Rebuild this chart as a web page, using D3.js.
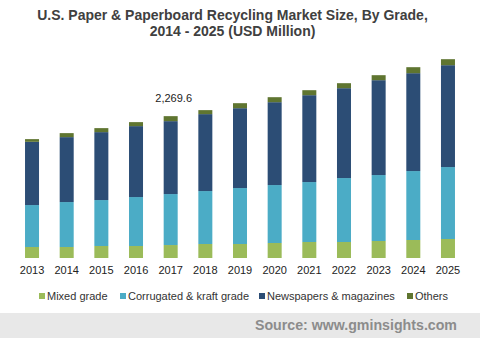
<!DOCTYPE html>
<html><head><meta charset="utf-8">
<script src="https://cdn.jsdelivr.net/npm/d3@7/dist/d3.min.js"></script>
<style>html,body{margin:0;padding:0;background:#fff;}svg{display:block;}</style>
</head><body>
<script>
const years = ["2013","2014","2015","2016","2017","2018","2019","2020","2021","2022","2023","2024","2025"];
const mixedGrade = [176,176,192,192,207.5,224,224,240,256,256,272,288,304];
const corrugatedKraft = [671,719,735,783,815.3,847,895,927,959,1023,1055,1103,1151];
const newspapersMagazines = [1012,1039,1087,1135,1166.8,1231,1278,1326,1390,1438,1518,1566,1630];
const others = [43,64,64,64,80,64,80,80,80,80,80,96,96];
const seriesNames = ["Mixed grade","Corrugated & kraft grade","Newspapers & magazines","Others"];
const seriesColors = ["#9bbb59","#4bacc6","#2c4d75","#5f7530"];
const annotation = {year:"2017", text:"2,269.6"};

const W=480,H=338;
const svg=d3.select("body").append("svg").attr("width",W).attr("height",H);
const font="'Liberation Sans', Arial, sans-serif";

svg.append("text").attr("x",232.5).attr("y",20).attr("text-anchor","middle")
  .attr("font-family",font).attr("font-weight","bold").attr("font-size",14).attr("fill","#404040")
  .text("U.S. Paper & Paperboard Recycling Market Size, By Grade,");
svg.append("text").attr("x",232.5).attr("y",36).attr("text-anchor","middle")
  .attr("font-family",font).attr("font-weight","bold").attr("font-size",14).attr("fill","#404040")
  .text("2014 - 2025 (USD Million)");

const x=d3.scaleBand().domain(years).range([14.7,465.3]).paddingInner(0.596).paddingOuter(0.298);
const y=d3.scaleLinear().domain([0,4000]).range([258,8]);

const table=years.map((yr,i)=>({year:yr,s0:mixedGrade[i],s1:corrugatedKraft[i],s2:newspapersMagazines[i],s3:others[i]}));
const stack=d3.stack().keys(["s0","s1","s2","s3"])(table);

svg.append("g").selectAll("g").data(stack).join("g").attr("fill",(d,i)=>seriesColors[i])
  .selectAll("rect").data(d=>d).join("rect")
  .attr("x",d=>x(d.data.year)).attr("width",x.bandwidth())
  .attr("y",d=>y(d[1])).attr("height",d=>y(d[0])-y(d[1]));

const xAxis=svg.append("g").attr("transform","translate(0,258)")
  .call(d3.axisBottom(x).tickSize(0).tickPadding(8));
xAxis.select(".domain").remove();
xAxis.selectAll("text").attr("font-family",font).attr("font-size",11).attr("fill","#222");

const ai=years.indexOf(annotation.year);
const tot=mixedGrade[ai]+corrugatedKraft[ai]+newspapersMagazines[ai]+others[ai];
svg.append("text").attr("x",x(annotation.year)+x.bandwidth()/2+3).attr("y",y(tot)-14)
  .attr("text-anchor","middle").attr("font-family",font).attr("font-size",11).attr("fill","#222")
  .text(annotation.text);

const legX=[39,120,259,407];
const leg=svg.append("g");
seriesNames.forEach((n,i)=>{
  leg.append("rect").attr("x",legX[i]).attr("y",293).attr("width",6).attr("height",6).attr("fill",seriesColors[i]);
  leg.append("text").attr("x",legX[i]+8).attr("y",300).attr("font-family",font).attr("font-size",11)
    .attr("fill","#333").text(n);
});

svg.append("rect").attr("x",0).attr("y",313).attr("width",W).attr("height",H-313).attr("fill","#e8e8e8");
svg.append("text").attr("x",457).attr("y",330).attr("text-anchor","end")
  .attr("font-family",font).attr("font-weight","bold").attr("font-size",14.2).attr("fill","#8c8c8c")
  .text("Source: www.gminsights.com");
</script>
</body></html>
